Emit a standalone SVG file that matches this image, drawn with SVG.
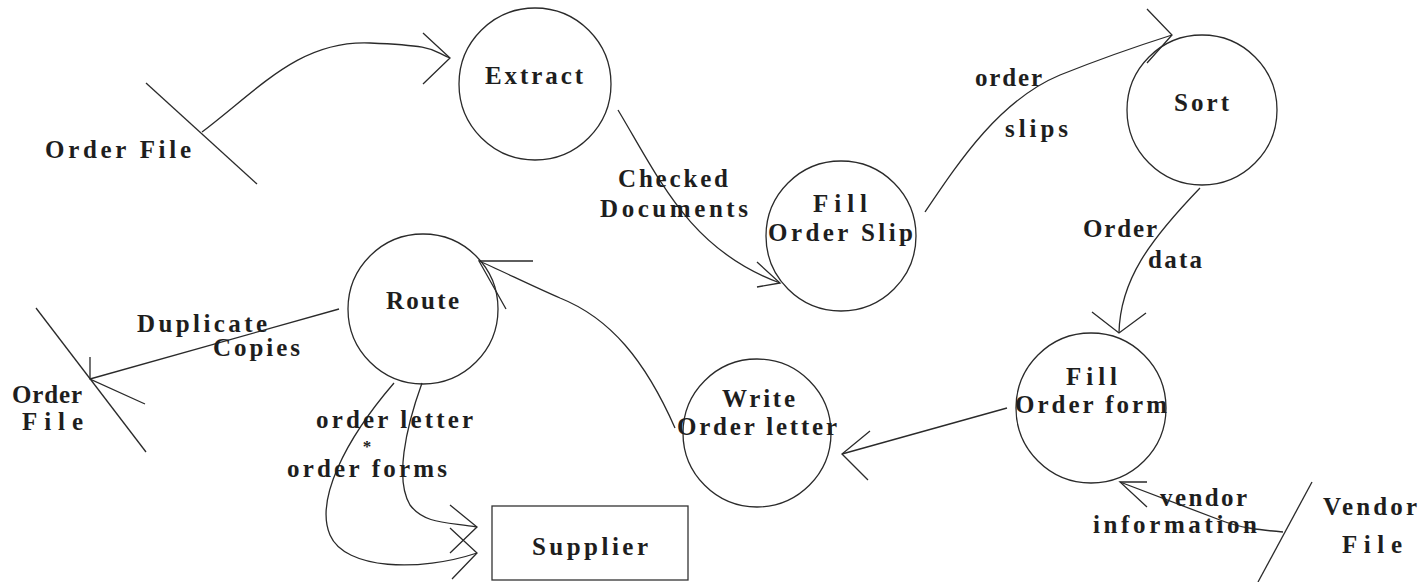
<svg xmlns="http://www.w3.org/2000/svg" width="1421" height="582" viewBox="0 0 1421 582">
<style>
.bg{fill:#ffffff}
.proc{fill:none;stroke:#2a2a2a;stroke-width:1.3}
.store{fill:none;stroke:#2a2a2a;stroke-width:1.3}
.box{fill:none;stroke:#333;stroke-width:1.3}
.flow{fill:none;stroke:#2a2a2a;stroke-width:1.3}
.head{fill:none;stroke:#2a2a2a;stroke-width:1.3}
text{font-family:"Liberation Serif","DejaVu Serif",serif;font-weight:bold;font-size:25px;fill:#1e1e1e}
.small{font-size:17px}
</style>
<rect class="bg" x="0" y="0" width="1421" height="582"/>

<g id="connectors">
  <path class="flow" d="M202,132 C260,88 300,40 370,43 S430,50 450,58"/>
  <polyline class="head" points="423,33 450,58 423,84"/>

  <path class="flow" d="M618,110 C660,180 690,250 780,283"/>
  <polyline class="head" points="757,262 780,283 757,287"/>

  <path class="flow" d="M925,212 C960,160 1000,100 1060,75 C1110,55 1150,42 1172,35"/>
  <polyline class="head" points="1147,9 1172,35 1147,63"/>

  <path class="flow" d="M1200,188 C1150,240 1120,280 1119,333"/>
  <polyline class="head" points="1092,312 1119,333 1146,313"/>

  <path class="flow" d="M1007,408 L842,454"/>
  <polyline class="head" points="870,431 842,454 868,480"/>

  <path class="flow" d="M675,428 C645,360 610,318 560,298 C530,285 500,270 479,261"/>
  <polyline class="head" points="533,261 479,261 506,309"/>

  <path class="flow" d="M339,309 L90,379"/>
  <polyline class="head" points="90,357 90,379 145,404"/>

  <path class="flow" d="M394,383 C345,440 315,500 330,535 C345,570 420,572 477,553"/>
  <path class="flow" d="M422,383 C405,430 395,480 410,505 C425,525 450,522 477,527"/>
  <polyline class="head" points="450,505 477,527 450,553"/>
  <polyline class="head" points="450,528 477,553 452,579"/>

  <path class="flow" d="M1283,532 C1260,530 1240,528 1220,520 L1120,482"/>
  <polyline class="head" points="1147,482 1120,482 1147,507"/>

  <text x="618" y="187" textLength="110" lengthAdjust="spacing">Checked</text>
  <text x="600" y="217" textLength="148" lengthAdjust="spacing">Documents</text>
  <text x="975" y="86" textLength="67" lengthAdjust="spacing">order</text>
  <text x="1005" y="137" textLength="63" lengthAdjust="spacing">slips</text>
  <text x="1083" y="237" textLength="74" lengthAdjust="spacing">Order</text>
  <text x="1148" y="268" textLength="54" lengthAdjust="spacing">data</text>
  <text x="1160" y="506" textLength="87" lengthAdjust="spacing">vendor</text>
  <text x="1093" y="533" textLength="164" lengthAdjust="spacing">information</text>
  <text x="137" y="332" textLength="130" lengthAdjust="spacing">Duplicate</text>
  <text x="213" y="356" textLength="87" lengthAdjust="spacing">Copies</text>
  <text x="316" y="428" textLength="157" lengthAdjust="spacing">order letter</text>
  <text class="small" x="367" y="452" text-anchor="middle">*</text>
  <text x="287" y="477" textLength="160" lengthAdjust="spacing">order forms</text>
</g>

<g id="order-file-top">
  <line class="store" x1="146" y1="83" x2="257" y2="184"/>
  <text x="45" y="158" textLength="146" lengthAdjust="spacing">Order File</text>
</g>

<g id="extract">
  <circle class="proc" cx="535" cy="84" r="76"/>
  <text x="485" y="84" textLength="98" lengthAdjust="spacing">Extract</text>
</g>

<g id="fill-order-slip">
  <circle class="proc" cx="841" cy="236" r="75"/>
  <text x="813" y="212" textLength="54" lengthAdjust="spacing">Fill</text>
  <text x="768" y="241" textLength="145" lengthAdjust="spacing">Order Slip</text>
</g>

<g id="sort">
  <circle class="proc" cx="1202" cy="110" r="75"/>
  <text x="1174" y="111" textLength="55" lengthAdjust="spacing">Sort</text>
</g>

<g id="fill-order-form">
  <circle class="proc" cx="1091" cy="408" r="75"/>
  <text x="1066" y="385" textLength="51" lengthAdjust="spacing">Fill</text>
  <text x="1015" y="413" textLength="152" lengthAdjust="spacing">Order form</text>
</g>

<g id="vendor-file">
  <line class="store" x1="1312" y1="482" x2="1258" y2="582"/>
  <text x="1323" y="515" textLength="94" lengthAdjust="spacing">Vendor</text>
  <text x="1342" y="553" textLength="60" lengthAdjust="spacing">File</text>
</g>

<g id="write-order-letter">
  <circle class="proc" cx="757" cy="433" r="74"/>
  <text x="722" y="407" textLength="73" lengthAdjust="spacing">Write</text>
  <text x="677" y="435" textLength="160" lengthAdjust="spacing">Order letter</text>
</g>

<g id="route">
  <circle class="proc" cx="423" cy="309" r="75"/>
  <text x="386" y="309" textLength="73" lengthAdjust="spacing">Route</text>
</g>

<g id="order-file-left">
  <line class="store" x1="36" y1="308" x2="146" y2="452"/>
  <text x="12" y="403" textLength="70" lengthAdjust="spacing">Order</text>
  <text x="22" y="430" textLength="61" lengthAdjust="spacing">File</text>
</g>

<g id="supplier">
  <rect class="box" x="492" y="506" width="196" height="74"/>
  <text x="532" y="555" textLength="116" lengthAdjust="spacing">Supplier</text>
</g>
</svg>
